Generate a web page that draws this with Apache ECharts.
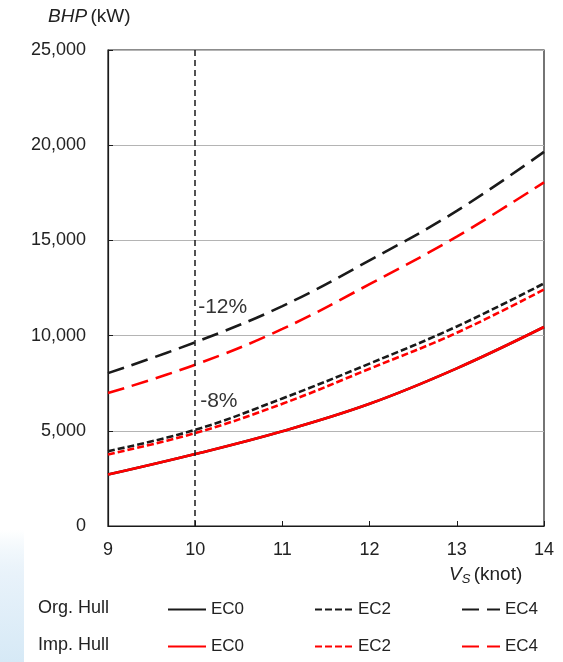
<!DOCTYPE html>
<html>
<head>
<meta charset="utf-8">
<script src="https://cdn.jsdelivr.net/npm/echarts@6/dist/echarts.min.js"></script>
<style>
  html, body { margin: 0; padding: 0; background: #fff; }
  #chart { width: 563px; height: 662px; }
</style>
</head>
<body>
<div id="chart"></div>
<script>
// Ship speed (knot) and brake horsepower (kW) for each hull / engine condition
const speeds = [9, 10, 11, 12, 13, 14];
const orgEC0 = [2700, 3780, 4980, 6420, 8280, 10450];
const orgEC2 = [3930, 5050, 6700, 8530, 10480, 12740];
const orgEC4 = [8030, 9650, 11550, 13950, 16550, 19650];
const impEC0 = [2700, 3780, 4980, 6420, 8280, 10450];
const impEC2 = [3760, 4880, 6420, 8260, 10150, 12420];
const impEC4 = [6980, 8470, 10350, 12700, 15200, 18050];
const yTicks = [0, 5000, 10000, 15000, 20000, 25000];
const refSpeed = 10;
const notes = ['-12%', '-8%'];

const BLACK = '#1a1a1a';
const RED = '#ff0000';
const FONT = 'Liberation Sans, Arial, sans-serif';

const pairs = (ys) => speeds.map((x, i) => [x, ys[i]]);

function lineSeries(name, ys, color, dash) {
  return {
    name: name,
    type: 'line',
    data: pairs(ys),
    smooth: 0.4,
    symbol: 'none',
    lineStyle: { color: color, width: 2.6, type: dash, cap: 'butt' },
    itemStyle: { color: color },
    emphasis: { disabled: true },
    z: color === RED ? 3 : 2
  };
}

const LONG = [17, 8];
const SHORT = [7, 3];

const series = [
  lineSeries('Org EC0', orgEC0, BLACK, 'solid'),
  lineSeries('Org EC2', orgEC2, BLACK, SHORT),
  lineSeries('Org EC4', orgEC4, BLACK, LONG),
  lineSeries('Imp EC0', impEC0, RED, 'solid'),
  lineSeries('Imp EC2', impEC2, RED, SHORT),
  lineSeries('Imp EC4', impEC4, RED, LONG)
];

// vertical reference line at the design speed
series[0].markLine = {
  silent: true,
  symbol: 'none',
  label: { show: false },
  lineStyle: { color: BLACK, width: 1.5, type: [6, 4] },
  data: [{ xAxis: refSpeed }]
};

function legendAt(name, left, top) {
  return {
    data: [name],
    left: left,
    top: top,
    padding: 0,
    itemWidth: 38,
    itemHeight: 14,
    selectedMode: false,
    itemStyle: { opacity: 0 },
    formatter: (n) => n.split(' ')[1],
    textStyle: { fontSize: 17, color: '#222', fontFamily: FONT }
  };
}

const chart = echarts.init(document.getElementById('chart'), null, { renderer: 'canvas' });

chart.setOption({
  backgroundColor: '#fff',
  animation: false,
  textStyle: { fontFamily: FONT },
  grid: {
    left: 108, right: 19, top: 50, bottom: 136,
    show: true, borderColor: BLACK, borderWidth: 1.2
  },
  xAxis: {
    type: 'value',
    min: speeds[0], max: speeds[speeds.length - 1], interval: 1,
    axisLine: { lineStyle: { color: BLACK, width: 1.2 } },
    axisTick: { inside: true, length: 5, lineStyle: { color: BLACK } },
    axisLabel: { fontSize: 18, color: '#222', margin: 15 },
    splitLine: { show: false }
  },
  yAxis: {
    type: 'value',
    min: yTicks[0], max: yTicks[yTicks.length - 1], interval: yTicks[1] - yTicks[0],
    axisLine: { show: true, lineStyle: { color: BLACK, width: 1.2 } },
    axisTick: { show: true, inside: true, length: 5, lineStyle: { color: BLACK } },
    axisLabel: {
      fontSize: 18, color: '#222', margin: 22,
      formatter: (v) => v.toLocaleString('en-US')
    },
    splitLine: { lineStyle: { color: '#b4b4b4', width: 1.2 } }
  },
  legend: [
    legendAt('Org EC0', 167, 601),
    legendAt('Org EC2', 314, 601),
    legendAt('Org EC4', 461, 601),
    legendAt('Imp EC0', 167, 638),
    legendAt('Imp EC2', 314, 638),
    legendAt('Imp EC4', 461, 638)
  ],
  series: series
});

// annotations, axis titles and the row captions of the legend
const p12 = chart.convertToPixel({ gridIndex: 0 }, [refSpeed, orgEC4[1]]);
const p8 = chart.convertToPixel({ gridIndex: 0 }, [refSpeed, orgEC2[1]]);

chart.setOption({
  graphic: [
    {
      type: 'rect', left: 0, top: 530, z: -10, silent: true,
      shape: { width: 24, height: 132 },
      style: {
        fill: new echarts.graphic.LinearGradient(0, 0, 0, 1, [
          { offset: 0, color: 'rgba(220,236,247,0)' },
          { offset: 0.35, color: '#e8f2fa' },
          { offset: 1, color: '#d6e9f6' }
        ])
      }
    },
    {
      type: 'text', left: p12[0] + 3, top: p12[1] - 46,
      style: { text: notes[0], fill: '#333', font: '21px ' + FONT }
    },
    {
      type: 'text', left: p8[0] + 5, top: p8[1] - 39,
      style: { text: notes[1], fill: '#333', font: '21px ' + FONT }
    },
    {
      type: 'text', left: 48, top: 7,
      style: {
        text: '{i|BHP} {n|(kW)}',
        rich: {
          i: { fontSize: 19, fontStyle: 'italic', fill: '#222', fontFamily: FONT },
          n: { fontSize: 19, fill: '#222', fontFamily: FONT }
        }
      }
    },
    {
      type: 'text', left: 449, top: 565,
      style: {
        text: '{i|V}{s|S} {n|(knot)}',
        rich: {
          i: { fontSize: 19, fontStyle: 'italic', fill: '#222', fontFamily: FONT },
          s: { fontSize: 13, fontStyle: 'italic', fill: '#222', fontFamily: FONT, padding: [9, 0, 0, 0] },
          n: { fontSize: 19, fill: '#222', fontFamily: FONT }
        }
      }
    },
    {
      type: 'text', left: 38, top: 599,
      style: { text: 'Org. Hull', fill: '#222', font: '18px ' + FONT }
    },
    {
      type: 'text', left: 38, top: 636,
      style: { text: 'Imp. Hull', fill: '#222', font: '18px ' + FONT }
    }
  ]
});
</script>
</body>
</html>
